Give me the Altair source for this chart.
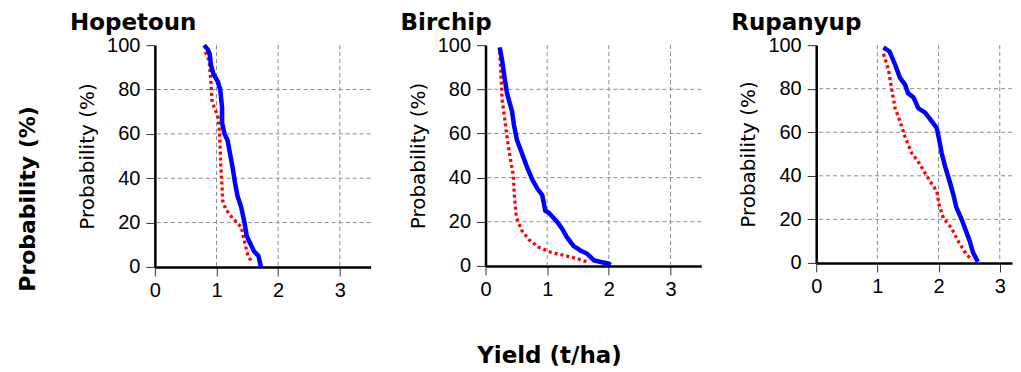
import altair as alt
import pandas as pd

# ---- data ----
sites = ["Hopetoun", "Birchip", "Rupanyup"]

hop_blue_x = [0.80, 0.86, 0.89, 0.91, 0.95, 1.02, 1.06, 1.09, 1.09, 1.13, 1.18, 1.22, 1.26, 1.30, 1.34, 1.40, 1.45, 1.49, 1.54, 1.61, 1.68, 1.72]
hop_blue_p = [100, 98, 96, 91, 87, 83.6, 80, 72, 65, 60, 57, 51, 45, 38, 32, 27, 20.5, 14, 11, 7, 5, 0]
hop_red_x = [0.82, 0.88, 0.91, 0.93, 0.98, 1.03, 1.05, 1.07, 1.09, 1.10, 1.15, 1.26, 1.40, 1.45, 1.50, 1.57]
hop_red_p = [97, 93, 83, 74, 71, 67, 60, 45, 36, 30, 26, 22, 18, 12, 6, 2]

bir_blue_x = [0.23, 0.27, 0.31, 0.35, 0.43, 0.46, 0.51, 0.59, 0.67, 0.76, 0.84, 0.92, 0.97, 1.03, 1.16, 1.24, 1.32, 1.43, 1.54, 1.65, 1.76, 1.87, 2.00, 2.03]
bir_blue_p = [99, 93, 85, 78, 70, 64, 57, 51, 45, 39, 35, 32, 25, 24, 20, 17, 13, 9, 7, 5.5, 2.5, 1.8, 1, 0.5]
bir_red_x = [0.23, 0.25, 0.27, 0.31, 0.35, 0.40, 0.45, 0.47, 0.50, 0.59, 0.70, 0.86, 1.05, 1.27, 1.49, 1.65]
bir_red_p = [97, 87, 75, 67, 58, 49, 41, 31, 22, 16, 12, 8.5, 6.3, 4.8, 3.3, 1.8]

rup_blue_x = [1.10, 1.20, 1.29, 1.37, 1.45, 1.50, 1.59, 1.67, 1.78, 1.89, 1.97, 2.01, 2.05, 2.11, 2.18, 2.24, 2.29, 2.37, 2.45, 2.51, 2.56, 2.64]
rup_blue_p = [99, 97, 91, 85, 82, 78, 76, 71, 69, 65, 62, 56.5, 50.5, 44, 37.5, 31.5, 25.5, 20.5, 14.5, 10, 5, 0.5]
rup_red_x = [1.10, 1.18, 1.22, 1.29, 1.37, 1.45, 1.56, 1.69, 1.86, 1.97, 2.01, 2.08, 2.21, 2.32, 2.43, 2.54]
rup_red_p = [96, 89, 82, 71, 65, 58, 50.5, 45.5, 37.5, 33, 26.5, 20.5, 16, 10, 5, 1.2]

x_ticks = [0, 1, 2, 3]
y_ticks = [0, 20, 40, 60, 80, 100]
x_grid = [1, 2, 3]
y_grid = [20, 40, 60, 80]

y_title = "Probability (%)"
x_title = "Yield (t/ha)"

GRID = "#8c8c8c"


def panel(title, bx, bp, rx, rp, width, height, xmax, extra=None):
    xs = alt.Scale(domain=[0, xmax], nice=False, zero=True)
    ys = alt.Scale(domain=[0, 100], nice=False)
    xaxis = alt.Axis(values=x_ticks, format="d", title=None, labelPadding=5, labelFlush=False)
    yaxis = alt.Axis(values=y_ticks, title=y_title, labelPadding=6, titlePadding=9)

    dfb = pd.DataFrame({"x": bx, "p": bp, "i": range(len(bx))})
    dfr = pd.DataFrame({"x": rx, "p": rp, "i": range(len(rx))})

    vgrid = alt.Chart(pd.DataFrame({"x": x_grid})).mark_rule(
        color=GRID, strokeDash=[4, 3], strokeWidth=1
    ).encode(x=alt.X("x:Q", scale=xs, axis=xaxis))
    hgrid = alt.Chart(pd.DataFrame({"p": y_grid})).mark_rule(
        color=GRID, strokeDash=[4, 3], strokeWidth=1
    ).encode(y=alt.Y("p:Q", scale=ys, axis=yaxis))

    red = alt.Chart(dfr).mark_line(color="#ff0000", strokeWidth=3.3, strokeDash=[3, 3]).encode(
        x=alt.X("x:Q", scale=xs, axis=xaxis),
        y=alt.Y("p:Q", scale=ys, axis=yaxis),
        order="i:Q",
    )
    blue = alt.Chart(dfb).mark_line(color="#0000ff", strokeWidth=4.5).encode(
        x=alt.X("x:Q", scale=xs, axis=xaxis),
        y=alt.Y("p:Q", scale=ys, axis=yaxis),
        order="i:Q",
    )
    ttl = alt.Chart(pd.DataFrame({"t": [title]})).mark_text(
        align="left", baseline="alphabetic", font="DejaVu Sans", fontSize=23,
        fontWeight="bold", color="black"
    ).encode(text="t:N", x=alt.value(-85), y=alt.value(-15))

    layers = [vgrid, hgrid, red, blue, ttl]
    if extra:
        layers += extra
    return alt.layer(*layers).properties(width=width, height=height)


big_y = alt.Chart(pd.DataFrame({"t": [y_title]})).mark_text(
    font="DejaVu Sans", fontSize=22, fontWeight="bold", angle=270,
    align="center", baseline="middle", color="black"
).encode(text="t:N", x=alt.value(-127), y=alt.value(154))

big_x = alt.Chart(pd.DataFrame({"t": [x_title]})).mark_text(
    font="DejaVu Sans", fontSize=23, fontWeight="bold",
    align="center", baseline="middle", color="black"
).encode(text="t:N", x=alt.value(64), y=alt.value(311))

p1 = panel(sites[0], hop_blue_x, hop_blue_p, hop_red_x, hop_red_p, 216, 222, 3.5, [big_y])
p2 = panel(sites[1], bir_blue_x, bir_blue_p, bir_red_x, bir_red_p, 216, 221, 3.5, [big_x])
p3 = panel(sites[2], rup_blue_x, rup_blue_p, rup_red_x, rup_red_p, 196, 218, 3.2)

chart = alt.hconcat(p1, p2, p3, spacing=115, bounds="flush").properties(
    padding={"left": 9, "top": 4, "right": 0, "bottom": 0},
    background="white",
).configure_view(strokeWidth=0).configure_axis(
    domainColor="black", domainWidth=2.5, tickColor="#333333", tickSize=9, tickWidth=1,
    labelFont="Liberation Sans", labelFontSize=20, labelColor="black",
    titleFont="DejaVu Sans", titleFontSize=20, titleFontWeight="normal", titleColor="black",
    grid=False,
)

chart.save("out.html", embed_options={"renderer": "svg", "actions": False})
